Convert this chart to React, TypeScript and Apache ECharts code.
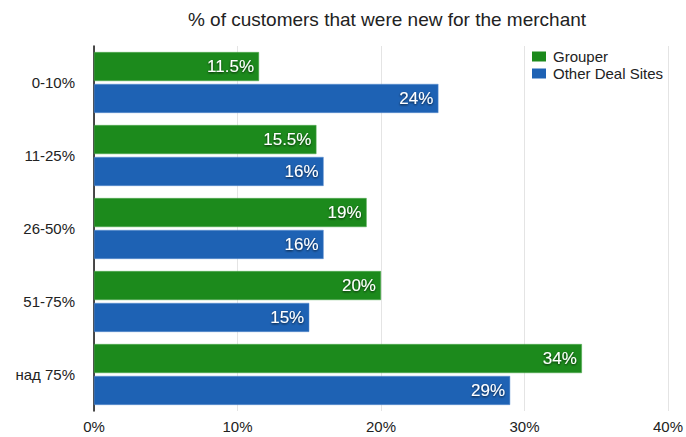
import React, { useEffect, useRef } from "react";
import * as echarts from "echarts";

const categories = ["0-10%", "11-25%", "26-50%", "51-75%", "над 75%"];
const grouper = [11.5, 15.5, 19, 20, 34];
const otherDealSites = [24, 16, 16, 15, 29];
const xTicks = [0, 10, 20, 30, 40];

const FONT = "'Liberation Sans', Arial, Helvetica, sans-serif";

export default function App() {
  const ref = useRef<HTMLDivElement>(null);
  useEffect(() => {
    if (!ref.current) return;
    const chart = echarts.init(ref.current, undefined, { renderer: "svg" });
    const label = {
      show: true,
      position: "insideRight",
      distance: 5,
      color: "#ffffff",
      fontSize: 17,
      fontFamily: FONT,
      textShadowColor: "rgba(0,0,0,0.75)",
      textShadowBlur: 2,
      textShadowOffsetY: 1,
      formatter: (p: any) => `${p.value}%`,
    };
    chart.setOption({
      animation: false,
      title: {
        text: "% of customers that were new for the merchant",
        left: 382,
        textAlign: "center",
        top: 5,
        textStyle: { fontSize: 19, fontWeight: "normal", color: "#222", fontFamily: FONT },
      },
      legend: {
        orient: "vertical",
        left: 527,
        top: 44,
        itemWidth: 14,
        itemHeight: 10,
        itemGap: 2,
        icon: "rect",
        itemStyle: { borderWidth: 0 },
        textStyle: { fontSize: 15, color: "#222", fontFamily: FONT, padding: [0, 0, 0, 2] },
        data: ["Grouper", "Other Deal Sites"],
      },
      grid: { left: 94, right: 16, top: 46, bottom: 26, containLabel: false },
      xAxis: {
        type: "value",
        min: xTicks[0],
        max: xTicks[xTicks.length - 1],
        interval: 10,
        axisLine: { show: false },
        axisTick: { show: false },
        splitLine: { show: true, lineStyle: { color: "#e4e4e4", width: 1 } },
        axisLabel: {
          formatter: (v: number) => `${v}%`,
          fontSize: 15,
          color: "#222",
          fontFamily: FONT,
          margin: 8,
        },
      },
      yAxis: {
        type: "category",
        data: categories,
        inverse: true,
        axisLine: { show: true, lineStyle: { color: "#111", width: 1.5 } },
        axisTick: { show: false },
        axisLabel: { fontSize: 15, color: "#222", fontFamily: FONT, margin: 19 },
      },
      series: [
        {
          name: "Grouper",
          type: "bar",
          data: grouper,
          barWidth: 29,
          barGap: "10%",
          itemStyle: { color: "#1c8a1c", borderColor: "#4fa84f", borderWidth: 0.5 },
          label,
        },
        {
          name: "Other Deal Sites",
          type: "bar",
          data: otherDealSites,
          barWidth: 29,
          barGap: "10%",
          itemStyle: { color: "#1e62b4", borderColor: "#5b8fd0", borderWidth: 0.5 },
          label,
        },
      ],
    });
    return () => chart.dispose();
  }, []);
  return <div ref={ref} style={{ width: 686, height: 437, position: "absolute", left: 0, top: 0 }} />;
}
